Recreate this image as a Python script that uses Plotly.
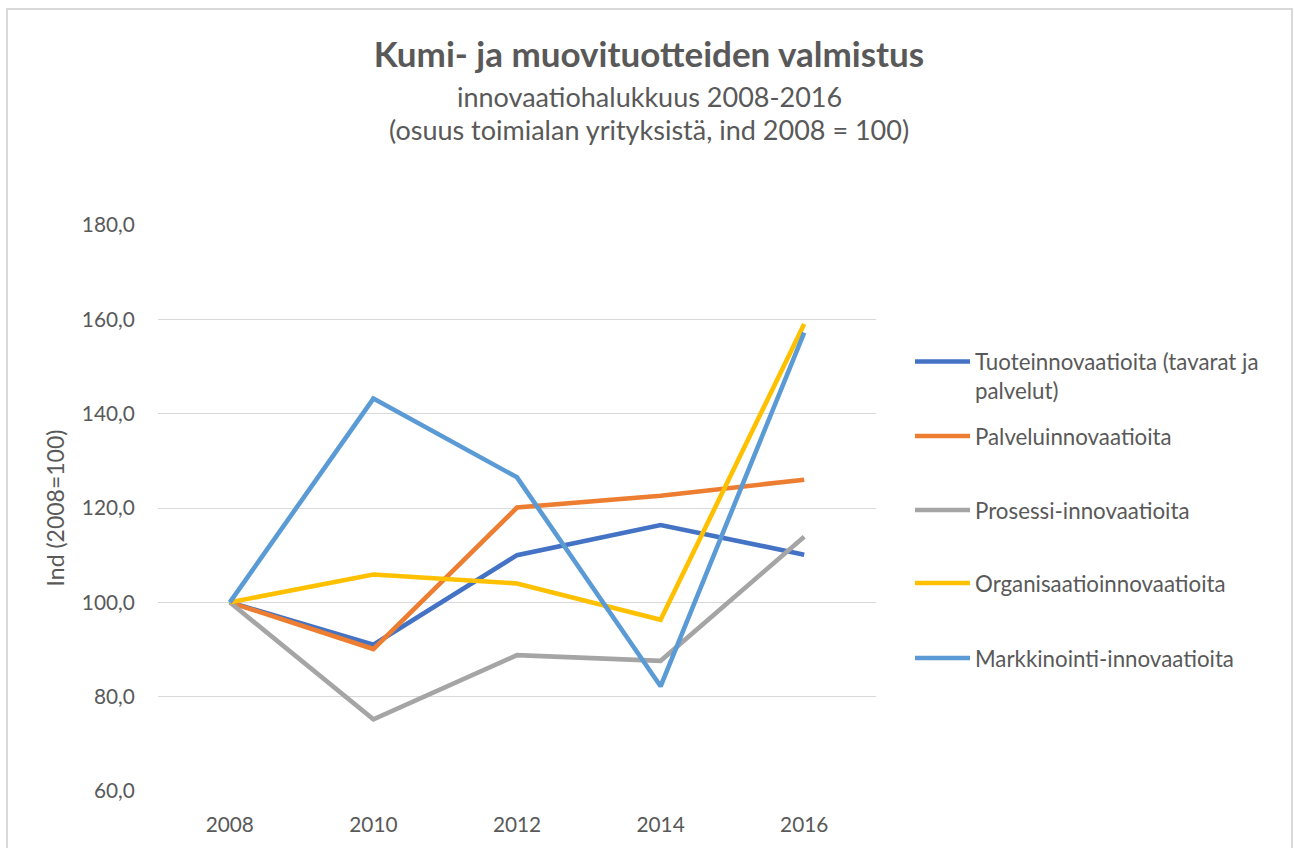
import plotly.graph_objects as go

years = ["2008", "2010", "2012", "2014", "2016"]
series_names = [
    "Tuoteinnovaatioita (tavarat ja<br>palvelut)",
    "Palveluinnovaatioita",
    "Prosessi-innovaatioita",
    "Organisaatioinnovaatioita",
    "Markkinointi-innovaatioita",
]
tuote = [100.0, 91.0, 110.0, 116.4, 110.1]
palvelu = [100.0, 90.1, 120.1, 122.6, 126.0]
prosessi = [100.0, 75.2, 88.8, 87.6, 113.9]
organisaatio = [100.0, 105.9, 104.0, 96.3, 159.0]
markkinointi = [100.0, 143.2, 126.5, 82.2, 157.2]
series_values = [tuote, palvelu, prosessi, organisaatio, markkinointi]
colors = ["#4472C4", "#ED7D31", "#A5A5A5", "#FFC000", "#5B9BD5"]
y_ticks = [60, 80, 100, 120, 140, 160, 180]
y_tick_labels = ["60,0", "80,0", "100,0", "120,0", "140,0", "160,0", "180,0"]

FONT = "Lato"
TXT = "#595959"
W, H = 1294, 848
L, R, T, B = 158, 876, 225, 791

def py(px):
    return (B - px) / (B - T)

def pxx(px):
    return (px - L) / (R - L)

legend_y = [376, 436, 510, 583, 658]

fig = go.Figure()
for i, (name, vals, c) in enumerate(zip(series_names, series_values, colors)):
    lg = "legend" if i == 0 else f"legend{i+1}"
    fig.add_trace(go.Scatter(
        x=years, y=vals, name=name, mode="lines",
        line=dict(color=c, width=4.6),
        legend=lg,
    ))

legend_common = dict(
    x=pxx(910), xanchor="left", yanchor="middle",
    font=dict(family=FONT, size=22.3, color=TXT),
    bgcolor="rgba(0,0,0,0)", borderwidth=0, valign="top",
    itemwidth=55,
)
lay = {}
for i, yy in enumerate(legend_y):
    key = "legend" if i == 0 else f"legend{i+1}"
    lay[key] = dict(legend_common, y=py(yy))

fig.update_layout(
    width=W, height=H, autosize=False,
    margin=dict(l=L, r=W - R, t=T, b=H - B, pad=0),
    paper_bgcolor="white", plot_bgcolor="white",
    font=dict(family=FONT, color=TXT),
    showlegend=True,
    title=dict(
        text="<b>Kumi- ja muovituotteiden valmistus</b>",
        x=649 / W, xanchor="center", xref="container",
        y=1 - 55 / H, yanchor="middle", yref="container",
        font=dict(family=FONT, size=35, color=TXT),
    ),
    xaxis=dict(
        type="category", showgrid=False, zeroline=False, showline=False,
        ticks="outside", ticklen=15, tickcolor="rgba(0,0,0,0)",
        tickfont=dict(family=FONT, size=20.8, color=TXT),
        range=[-0.5, 4.5],
    ),
    yaxis=dict(
        range=[60, 180], tickvals=y_ticks, ticktext=y_tick_labels,
        showgrid=True, gridcolor="#D9D9D9", gridwidth=1.3,
        zeroline=False, showline=False,
        ticks="outside", ticklen=18, tickcolor="rgba(0,0,0,0)",
        tickfont=dict(family=FONT, size=20.8, color=TXT),
        title=dict(text="Ind (2008=100)", font=dict(family=FONT, size=23, color=TXT), standoff=10),
    ),
    **lay,
)

fig.add_annotation(text="innovaatiohalukkuus 2008-2016", xref="paper", yref="paper",
                   x=pxx(649), y=py(97), xanchor="center", yanchor="middle", showarrow=False,
                   font=dict(family=FONT, size=27, color=TXT))
fig.add_annotation(text="(osuus toimialan yrityksistä, ind 2008 = 100)", xref="paper", yref="paper",
                   x=pxx(649), y=py(130), xanchor="center", yanchor="middle", showarrow=False,
                   font=dict(family=FONT, size=27, color=TXT))

# chart-area border
fig.add_shape(type="rect", xref="paper", yref="paper",
              x0=pxx(7), x1=pxx(1292), y0=py(860), y1=py(9),
              line=dict(color="#D9D9D9", width=2), fillcolor="rgba(0,0,0,0)", layer="below")

fig.write_html("out.html", config={"displayModeBar": False},
               post_script="document.body.style.margin='0';")
